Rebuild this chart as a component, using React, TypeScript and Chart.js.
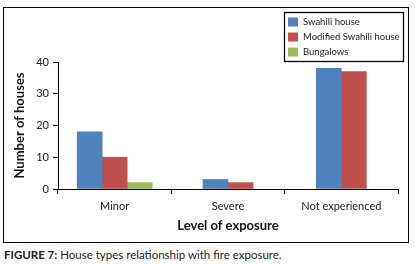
import React, { useEffect, useRef } from "react";
import { Chart, registerables } from "chart.js";

Chart.register(...registerables);

const categories = ["Minor", "Severe", "Not experienced"];
const swahili = [18, 3, 38];
const modified = [10, 2, 37];
const bungalows = [2, null, null];
const seriesLabels = ["Swahili house", "Modified Swahili house", "Bungalows"];
const seriesColors = ["#4F81BD", "#C0504D", "#9BBB59"];
const yTicks = [0, 10, 20, 30, 40];

const FONT = "Lato, 'Open Sans', sans-serif";

const boxLegend = {
  id: "boxLegend",
  afterDraw(chart: any) {
    const ctx = chart.ctx;
    const x0 = 284.5, y0 = 12.5, w = 119, h = 49;
    ctx.save();
    ctx.fillStyle = "#fff";
    ctx.fillRect(x0, y0, w, h);
    ctx.strokeStyle = "#000";
    ctx.lineWidth = 1.3;
    ctx.strokeRect(x0, y0, w, h);
    ctx.font = `9.5px ${FONT}`;
    ctx.textBaseline = "middle";
    ctx.textAlign = "left";
    chart.data.datasets.forEach((ds: any, i: number) => {
      const cy = 22 + i * 15;
      ctx.fillStyle = ds.backgroundColor;
      ctx.fillRect(288, cy - 4.5, 10, 9);
      ctx.fillStyle = "#222";
      ctx.fillText(ds.label, 303, cy);
    });
    ctx.restore();
  },
};

export default function App() {
  const ref = useRef<HTMLCanvasElement>(null);
  useEffect(() => {
    document.body.style.margin = "0";
    const values = [swahili, modified, bungalows];
    const chart = new Chart(ref.current!, {
      type: "bar",
      data: {
        labels: categories,
        datasets: values.map((d, i) => ({
          label: seriesLabels[i],
          data: d,
          backgroundColor: seriesColors[i],
          borderWidth: 0,
          barThickness: 25,
          skipNull: true,
        })),
      },
      options: {
        animation: false,
        responsive: false,
        devicePixelRatio: 1,
        layout: { padding: { left: 0, top: 62, right: 17, bottom: 0 } },
        plugins: { legend: { display: false }, tooltip: { enabled: false } },
        scales: {
          x: {
            offset: true,
            grid: { offset: true, drawOnChartArea: false, drawTicks: true, tickLength: 5, color: "#000" },
            border: { display: true, color: "#000", width: 1 },
            ticks: { color: "#222", font: { family: FONT, size: 11 }, padding: 6 },
            title: {
              display: true,
              text: "Level of exposure",
              color: "#111",
              font: { family: FONT, size: 13, weight: "bold" },
              padding: { top: 0, bottom: 11 },
            },
            afterFit: (s: any) => { s.height = 56; },
          },
          y: {
            min: 0,
            max: 40,
            afterBuildTicks: (s: any) => { s.ticks = yTicks.map((v) => ({ value: v })); },
            grid: { drawOnChartArea: false, drawTicks: true, tickLength: 5, color: "#000" },
            border: { display: true, color: "#000", width: 1 },
            ticks: { color: "#222", font: { family: FONT, size: 11 }, padding: 4 },
            title: {
              display: true,
              text: "Number of houses",
              color: "#111",
              font: { family: FONT, size: 13, weight: "bold" },
              padding: { top: 12, bottom: 0 },
            },
            afterFit: (s: any) => { s.width = 58; },
          },
        },
      },
      plugins: [boxLegend],
    });
    return () => chart.destroy();
  }, []);
  return (
    <div style={{ position: "relative", width: 415, height: 267, background: "#fff", fontFamily: FONT }}>
      <div
        style={{
          position: "absolute",
          left: 3,
          top: 7,
          width: 404,
          height: 234,
          border: "1px solid #000",
        }}
      />
      <canvas ref={ref} width={415} height={245} style={{ position: "absolute", left: 0, top: 0, width: 415, height: 245 }} />
      <div
        style={{
          position: "absolute",
          left: 4,
          top: 248,
          fontSize: 11.5,
          lineHeight: "13px",
          color: "#222",
          whiteSpace: "nowrap",
        }}
      >
        <b>FIGURE 7:</b> House types relationship with fire exposure.
      </div>
    </div>
  );
}
